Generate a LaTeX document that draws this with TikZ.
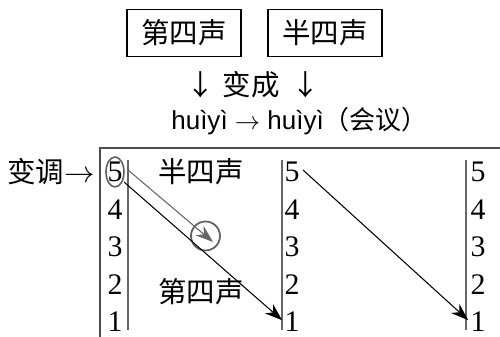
\documentclass[tikz,border=0pt]{standalone}
\usepackage{fontspec}
\setmainfont{Liberation Serif}
\newfontfamily\cjk{Noto Sans CJK SC}
\newfontfamily\pinyin{Liberation Sans}
\usetikzlibrary{arrows.meta}

\begin{document}
\begin{tikzpicture}[x=0.02cm, y=-0.02cm,
    tonebox/.style={draw, line width=0.6pt, minimum width=2.28cm, minimum height=0.94cm, inner sep=0pt, font=\cjk\fontsize{16.2}{18}\selectfont},
    hanzi/.style={inner sep=0pt, font=\cjk\fontsize{16.2}{18}\selectfont},
    numlabel/.style={inner sep=0pt, font=\fontsize{17}{20}\selectfont},
    scaleline/.style={gray!80!black, line width=0.9pt},
    pitch/.style={black, line width=0.6pt, shorten >=1.5pt, -{Stealth[length=10pt, width=7pt]}}]

\useasboundingbox (0,0) rectangle (500,337);

% Top: the two tones
\node[tonebox] (fourth) at (184,33) {第四声};
\node[tonebox] (half) at (325,33) {半四声};

% Middle: changes into
\node[hanzi] (downL) at (201,85) {↓};
\node[hanzi] (become) at (251,85) {变成};
\node[hanzi] (downR) at (306,85) {↓};

% Example word
\node[anchor=west, inner sep=0pt, font=\pinyin\fontsize{14.8}{16}\selectfont] (word) at (171,121)
    {huìyì $\rightarrow$ huìyì\cjk（会议）};

% Frame of the chart
\coordinate (frameB) at (100,337);
\coordinate (frameC) at (100,148);
\coordinate (frameR) at (500,148);
\draw[gray!60!black, line width=0.9pt] (frameB) -- (frameC) -- (frameR);

% Three pitch scales
\foreach \col/\xn/\xl in {a/115/128, b/292/282, c/478/466} {
    \draw[scaleline] (\xl,160) -- (\xl,330);
    \foreach \n in {5,...,1} {
        \node[numlabel] (\col\n) at (\xn,{172+(5-\n)*37.5}) {\n};
    }
}

% Tone change on the first syllable
\node[anchor=east, inner sep=0pt, font=\cjk\fontsize{16.2}{18}\selectfont] (change) at (95,172) {变调$\rightarrow$};
\draw[gray!75!black, line width=0.9pt] (a5) ellipse [x radius=9, y radius=15];
\node[hanzi] (halfname) at (201,172) {半四声};
\node[hanzi] (fourthname) at (201,292) {第四声};

\node[draw, circle, gray!75!black, line width=1pt, minimum size=0.58cm, inner sep=0pt] (mark) at (205.5,236) {};
\coordinate (gstart) at (128,170);
\coordinate (gend) at (213,242);
\draw[pitch, gray!80!black, shorten >=0pt] (gstart) -- (gend);

\coordinate (astart) at (124,182);
\coordinate (bstart) at (303,170);
\draw[pitch] (astart) -- (b1.west);
\draw[pitch] (bstart) -- (c1.west);

\end{tikzpicture}
\end{document}
